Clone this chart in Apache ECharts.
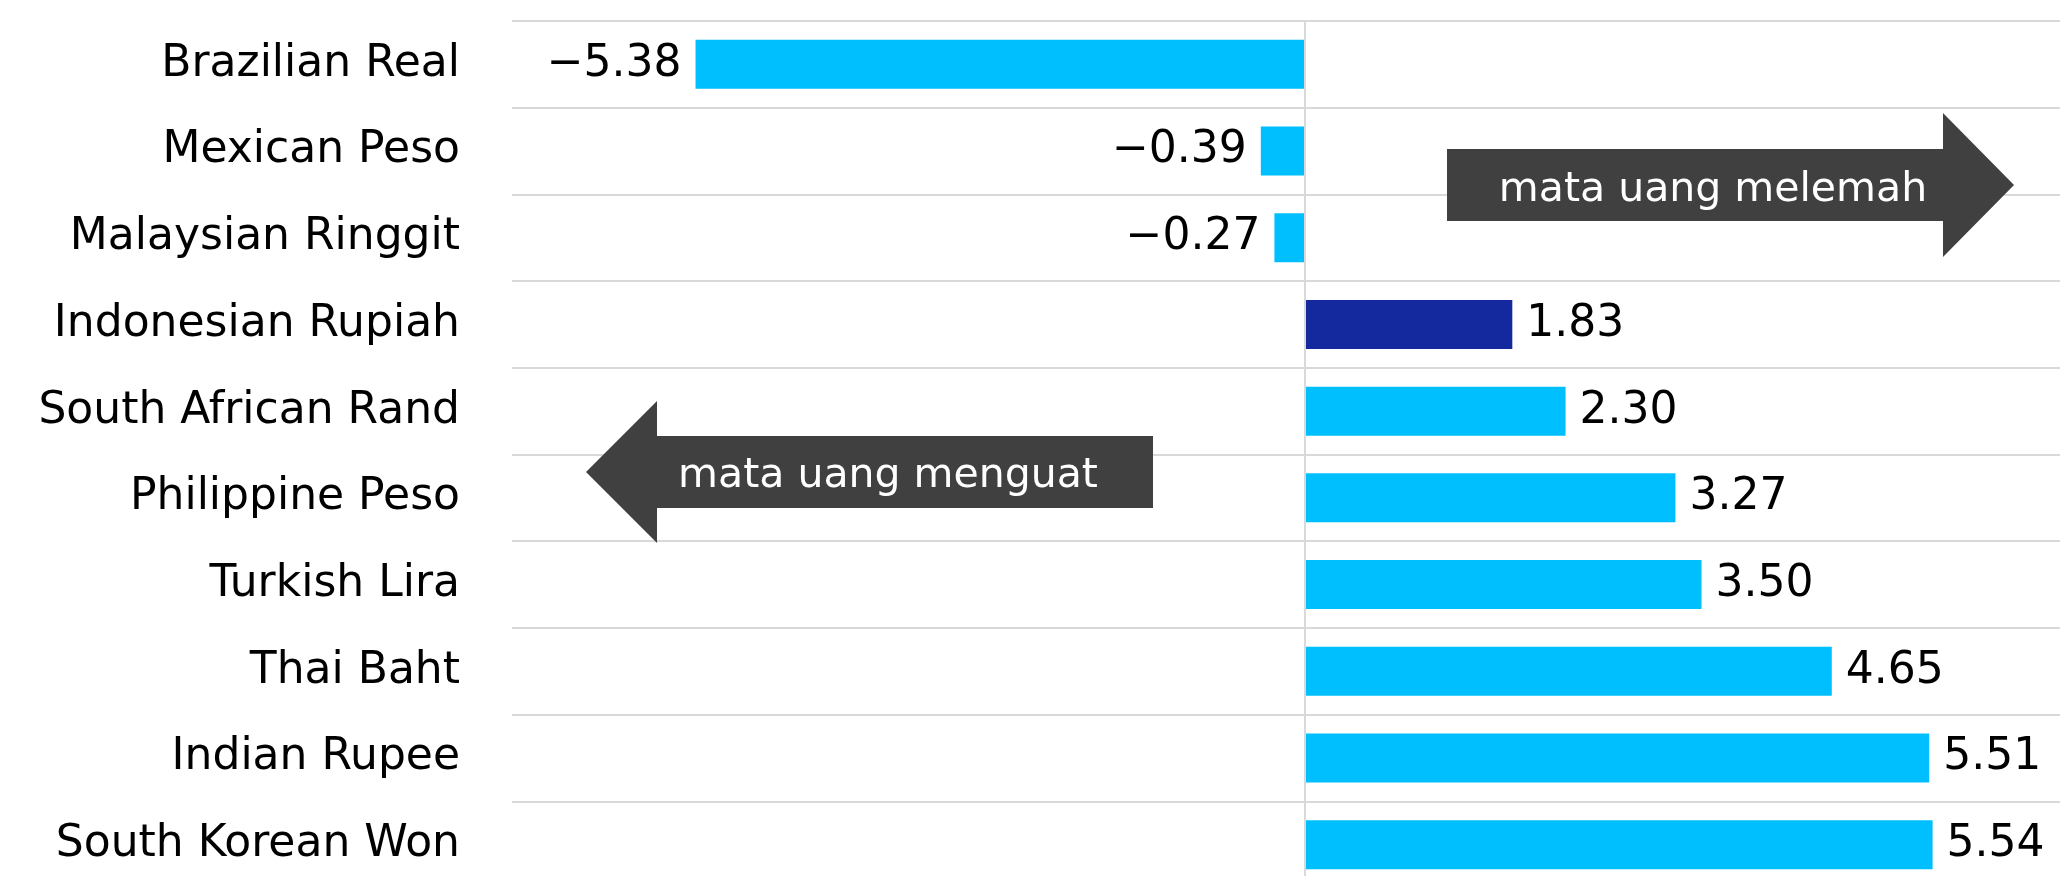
<!DOCTYPE html>
<html>
<head>
<meta charset="utf-8">
<script src="https://cdn.jsdelivr.net/npm/echarts@6/dist/echarts.min.js"></script>
<style>
  html, body { margin: 0; padding: 0; background: #fff; overflow: hidden; }
  /* kanvas sedikit lebih besar dari jendela: grafik aslinya terpotong di kanan & bawah */
  #container { width: 2098px; height: 888px; }
</style>
</head>
<body>
<div id="container"></div>
<script>
// data
var currencies = ["Brazilian Real", "Mexican Peso", "Malaysian Ringgit", "Indonesian Rupiah",
    "South African Rand", "Philippine Peso", "Turkish Lira", "Thai Baht", "Indian Rupee", "South Korean Won"];
var changes = [-5.38, -0.39, -0.27, 1.83, 2.30, 3.27, 3.50, 4.65, 5.51, 5.54];
var highlight = "Indonesian Rupiah";

var fontName = "'DejaVu Sans', sans-serif";

// susun data bar, label kiri untuk nilai negatif
var barData = [];
for (var i = 0; i < changes.length; i++) {
    var v = changes[i];
    barData.push({
        value: v,
        itemStyle: { color: currencies[i] == highlight ? "#15299E" : "#00BFFF" },
        label: { position: v < 0 ? "left" : "right" }
    });
}

// panah penjelasan (x0 = ujung badan, x1 = pangkal kepala, xt = ujung panah)
function arrow(x0, x1, xt, yc, hb, hh) {
    return [[x0, yc - hb], [x1, yc - hb], [x1, yc - hh], [xt, yc], [x1, yc + hh], [x1, yc + hb], [x0, yc + hb]];
}

var dom = document.getElementById("container");
var myChart = echarts.init(dom);
var option;
option = {
    animation: false,
    backgroundColor: "#fff",
    grid: { left: 512, right: 0, top: 21, bottom: 0 },
    xAxis: {
        type: "value",
        min: -7,
        max: 7,
        axisLabel: { show: false },
        axisLine: { show: false },
        axisTick: { show: false },
        splitLine: { show: false }
    },
    yAxis: {
        type: "category",
        inverse: true,
        data: currencies,
        axisLine: { show: false },
        axisTick: { show: false },
        axisLabel: {
            margin: 52,
            color: "#000",
            fontFamily: fontName,
            fontSize: 44
        },
        splitLine: { show: true, lineStyle: { color: "#d9d9d9", width: 2 } }
    },
    series: [
        {
            type: "bar",
            barWidth: 49,
            data: barData,
            label: {
                show: true,
                distance: 14,
                color: "#000",
                fontFamily: fontName,
                fontSize: 44,
                formatter: function (p) {
                    var s = Math.abs(p.value).toFixed(2);
                    return p.value < 0 ? "\u2212" + s : s;
                }
            },
            markLine: {
                silent: true,
                symbol: "none",
                label: { show: false },
                lineStyle: { color: "#d9d9d9", width: 2, type: "solid" },
                data: [{ xAxis: 0 }]
            }
        }
    ],
    graphic: [
        {
            type: "polygon",
            z: 100,
            shape: { points: arrow(1447, 1943, 2014, 185, 36, 72) },
            style: { fill: "#404040" }
        },
        {
            type: "text",
            z: 101,
            x: 1713, y: 190,
            style: {
                text: "mata uang melemah", fill: "#fff", font: "41px " + fontName,
                textAlign: "center", textVerticalAlign: "middle"
            }
        },
        {
            type: "polygon",
            z: 100,
            shape: { points: arrow(1153, 657, 586, 472, 36, 71) },
            style: { fill: "#404040" }
        },
        {
            type: "text",
            z: 101,
            x: 888, y: 476,
            style: {
                text: "mata uang menguat", fill: "#fff", font: "41px " + fontName,
                textAlign: "center", textVerticalAlign: "middle"
            }
        }
    ]
};

if (option && typeof option === 'object') {
    myChart.setOption(option);
}
</script>
</body>
</html>
